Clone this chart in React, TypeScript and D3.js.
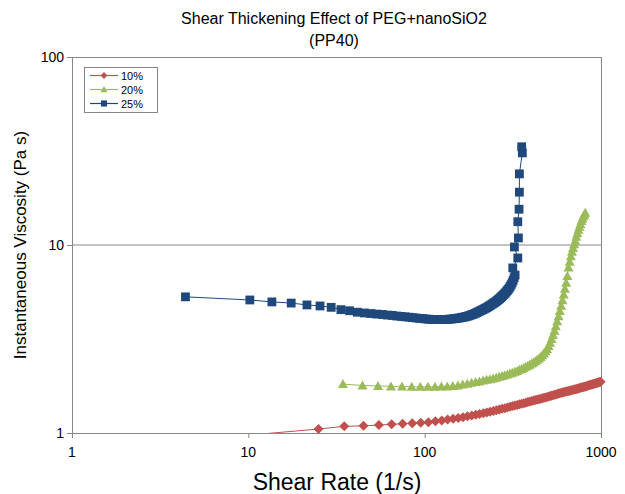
import React from "react";
import * as d3 from "d3";

const titleLines = ["Shear Thickening Effect of PEG+nanoSiO2", "(PP40)"];
const xTicks = [1, 10, 100, 1000];
const yTicks = [1, 10, 100];
const seriesNames = ["10%", "20%", "25%"];
const seriesColors = ["#C0504D", "#9BBB59", "#1F497D"];

// shear rate (1/s), viscosity (Pa s)
const data10: [number, number][] = [
  [5, 0.92], [25, 1.05], [35, 1.085], [45, 1.092], [55, 1.102], [65, 1.112], [75, 1.12], [85, 1.127], [95, 1.134],
  [105, 1.141], [115, 1.154], [125, 1.166], [135, 1.178], [145, 1.19], [155, 1.202], [165, 1.214], [175, 1.226],
  [185, 1.239], [195, 1.251], [205, 1.262], [215, 1.274], [225, 1.286], [235, 1.297], [245, 1.309], [255, 1.32],
  [265, 1.332], [275, 1.344], [285, 1.356], [295, 1.368], [305, 1.38], [315, 1.39], [325, 1.4], [335, 1.41],
  [345, 1.42], [355, 1.43], [365, 1.44], [375, 1.45], [385, 1.46], [395, 1.47], [405, 1.479], [415, 1.488],
  [425, 1.496], [435, 1.505], [445, 1.513], [455, 1.522], [465, 1.53], [475, 1.539], [485, 1.547], [495, 1.556],
  [505, 1.564], [515, 1.572], [525, 1.58], [535, 1.588], [545, 1.596], [555, 1.604], [565, 1.612], [575, 1.62],
  [585, 1.628], [595, 1.636], [605, 1.643], [615, 1.649], [625, 1.655], [635, 1.661], [645, 1.667], [655, 1.673],
  [665, 1.679], [675, 1.685], [685, 1.691], [695, 1.697], [705, 1.703], [715, 1.709], [725, 1.715], [735, 1.721],
  [745, 1.727], [755, 1.733], [765, 1.739], [775, 1.745], [785, 1.751], [795, 1.757], [805, 1.763], [815, 1.769],
  [825, 1.775], [835, 1.781], [845, 1.787], [855, 1.793], [865, 1.799], [875, 1.805], [885, 1.81], [895, 1.815],
  [905, 1.82], [915, 1.826], [925, 1.832], [935, 1.838], [945, 1.844], [955, 1.85], [965, 1.856], [975, 1.861],
  [985, 1.866], [995, 1.871],
];

const data20: [number, number][] = [
  [34.4, 1.82], [44.4, 1.79], [54.4, 1.78], [64.4, 1.77], [74.4, 1.77], [84.4, 1.76], [94.4, 1.76], [104.4, 1.76],
  [114.4, 1.76], [124.4, 1.77], [134.4, 1.77], [144.4, 1.78], [154.4, 1.79], [164.4, 1.81], [174.4, 1.83],
  [184.4, 1.85], [194.4, 1.87], [204.4, 1.88], [214.4, 1.9], [224.4, 1.92], [234.4, 1.93], [244.4, 1.95],
  [254.4, 1.97], [264.4, 1.99], [274.4, 2.01], [284.4, 2.03], [294.4, 2.05], [304.4, 2.07], [314.4, 2.09],
  [324.4, 2.12], [334.4, 2.14], [344.4, 2.17], [354.4, 2.19], [364.4, 2.22], [374.4, 2.25], [384.4, 2.28],
  [394.4, 2.31], [404.4, 2.34], [414.4, 2.37], [424.4, 2.41], [434.4, 2.45], [444.4, 2.49], [454.4, 2.54],
  [464.4, 2.59], [474.4, 2.65], [484.4, 2.72], [494.4, 2.8], [504.4, 2.9], [514.4, 3.02], [524.4, 3.16],
  [534.4, 3.32], [544.4, 3.5], [554.4, 3.7], [564.4, 3.93], [574.4, 4.18], [584.4, 4.45], [594.4, 4.75],
  [604.4, 5.08], [614.4, 5.45], [624.4, 5.85], [634.4, 6.3], [644.4, 6.85], [654.4, 7.6], [664.4, 8.15],
  [674.4, 8.7], [684.4, 9.2], [694.4, 9.65], [704.4, 10.1], [714.4, 10.55], [724.4, 11.05], [734.4, 11.55],
  [744.4, 12.05], [754.4, 12.5], [764.4, 12.95], [774.4, 13.4], [784.4, 13.8], [794.4, 14.2], [804.4, 14.55],
  [814.4, 14.85],
];

const data25: [number, number][] = [
  [4.4, 5.3], [10.2, 5.1], [13.6, 4.98], [17.5, 4.91], [21.5, 4.8], [25.5, 4.74], [29.5, 4.66], [33.5, 4.53],
  [37.5, 4.47], [41.5, 4.39], [45.5, 4.35], [49.5, 4.32], [53.5, 4.29], [57.5, 4.27], [61.5, 4.24], [65.5, 4.22],
  [69.5, 4.19], [73.5, 4.17], [77.5, 4.15], [81.5, 4.13], [85.5, 4.11], [89.5, 4.09], [93.5, 4.07], [97.5, 4.06],
  [101.5, 4.04], [105.5, 4.03], [109.5, 4.02], [113.5, 4.02], [117.5, 4.01], [121.5, 4.01], [125.5, 4.01],
  [129.5, 4.02], [133.5, 4.02], [137.5, 4.03], [141.5, 4.04], [145.5, 4.05], [149.5, 4.06], [153.5, 4.08],
  [157.5, 4.09], [161.5, 4.11], [165.5, 4.13], [169.5, 4.15], [173.5, 4.17], [177.5, 4.2], [181.5, 4.23],
  [185.5, 4.26], [189.5, 4.29], [193.5, 4.33], [197.5, 4.37], [201.5, 4.41], [205.5, 4.45], [209.5, 4.49],
  [213.5, 4.53], [217.5, 4.57], [221.5, 4.61], [225.5, 4.65], [229.5, 4.7], [233.5, 4.75], [237.5, 4.8],
  [241.5, 4.85], [245.5, 4.9], [249.5, 4.95], [253.5, 5.0], [257.5, 5.06], [261.5, 5.12], [265.5, 5.18],
  [269.5, 5.25], [273.5, 5.32], [277.5, 5.39], [281.5, 5.46], [285.5, 5.54], [289.5, 5.62], [293.5, 5.71],
  [297.5, 5.8], [301.5, 5.9], [305.5, 6.02], [309.5, 6.15], [313.5, 6.3], [317.5, 6.48], [321.5, 6.7],
  [325.7, 6.92], [316, 7.55], [337.4, 8.53], [322.7, 9.76], [340, 10.9], [337.4, 13.3], [343, 15.5],
  [344.5, 19.1], [344.5, 23.9], [358, 30.9], [355, 33.3],
];

const allSeries = [data10, data20, data25];

const W = 625;
const H = 494;
const PL = 72, PR = 601, PT = 57, PB = 433;
const FONT = "Arial, 'Liberation Sans', sans-serif";
const AXIS = "#868686";

function markerPath(kind: number, r: number): string {
  if (kind === 0) return `M0,${-r}L${r},0L0,${r}L${-r},0Z`;
  if (kind === 1) return `M0,${-r}L${r},${r * 0.8}L${-r},${r * 0.8}Z`;
  return `M${-r * 0.9},${-r * 0.9}H${r * 0.9}V${r * 0.9}H${-r * 0.9}Z`;
}

export default function App() {
  const x = d3.scaleLog().domain([1, 1000]).range([PL, PR]);
  const y = d3.scaleLog().domain([1, 100]).range([PB, PT]);
  const line = d3
    .line<[number, number]>()
    .x((d) => x(d[0]))
    .y((d) => y(d[1]));

  return (
    <svg
      width={W}
      height={H}
      style={{ position: "absolute", left: 0, top: 0, background: "#fff" }}
      fontFamily={FONT}
    >
      <defs>
        <clipPath id="plotClip">
          <rect x={PL} y={PT} width={PR - PL} height={PB - PT} />
        </clipPath>
      </defs>
      <rect x={0} y={0} width={W} height={H} fill="#fff" />

      {/* title */}
      <text x={334} y={24} textAnchor="middle" fontSize={16} fill="#000">
        {titleLines[0]}
      </text>
      <text x={334} y={46} textAnchor="middle" fontSize={16} fill="#000">
        {titleLines[1]}
      </text>

      {/* plot border & gridline */}
      <line x1={PL} x2={PR} y1={y(10)} y2={y(10)} stroke={AXIS} strokeWidth={1} />
      <line x1={PL} x2={PR} y1={PT + 0.5} y2={PT + 0.5} stroke={AXIS} strokeWidth={1} />
      <line x1={PR + 0.5} x2={PR + 0.5} y1={PT} y2={PB} stroke={AXIS} strokeWidth={1} />
      <line x1={PL + 0.5} x2={PL + 0.5} y1={PT} y2={PB} stroke={AXIS} strokeWidth={1} />
      <line x1={PL} x2={PR} y1={PB + 0.5} y2={PB + 0.5} stroke={AXIS} strokeWidth={1} />

      {/* ticks */}
      {xTicks.map((t) => (
        <g key={"xt" + t}>
          <line x1={x(t) + 0.5} x2={x(t) + 0.5} y1={PB} y2={PB + 5} stroke={AXIS} />
          <text x={x(t)} y={457} textAnchor="middle" fontSize={14} fill="#000">
            {t}
          </text>
        </g>
      ))}
      {yTicks.map((t) => (
        <g key={"yt" + t}>
          <line x1={PL - 5} x2={PL} y1={y(t) + 0.5} y2={y(t) + 0.5} stroke={AXIS} />
          <text x={64} y={y(t) + 5} textAnchor="end" fontSize={14} fill="#000">
            {t}
          </text>
        </g>
      ))}

      {/* axis titles */}
      <text
        transform={`translate(26,${(PT + PB) / 2}) rotate(-90)`}
        textAnchor="middle"
        fontSize={17}
        fill="#000"
      >
        Instantaneous Viscosity (Pa s)
      </text>
      <text x={337} y={490} textAnchor="middle" fontSize={23} fill="#000">
        Shear Rate (1/s)
      </text>

      {/* series */}
      {allSeries.map((s, i) => (
        <g key={"s" + i}>
          <path
            d={line(s) || ""}
            fill="none"
            stroke={seriesColors[i]}
            strokeWidth={1}
            clipPath="url(#plotClip)"
          />
          {s
            .filter((d) => d[1] >= 1)
            .map((d, j) => (
              <path
                key={j}
                transform={`translate(${x(d[0])},${y(d[1])})`}
                d={markerPath(i, i === 2 ? 4.9 : 5)}
                fill={seriesColors[i]}
              />
            ))}
        </g>
      ))}

      {/* legend */}
      <rect x={84.5} y={67.5} width={73} height={45} fill="#fff" stroke={AXIS} />
      {seriesNames.map((n, i) => {
        const ly = 75.5 + i * 14;
        return (
          <g key={"lg" + i}>
            <line x1={90} x2={118} y1={ly} y2={ly} stroke={seriesColors[i]} strokeWidth={1.2} />
            <path transform={`translate(104,${ly})`} d={markerPath(i, 3.4)} fill={seriesColors[i]} />
            <text x={121} y={ly + 4} fontSize={11} fill="#000">
              {n}
            </text>
          </g>
        );
      })}
    </svg>
  );
}
